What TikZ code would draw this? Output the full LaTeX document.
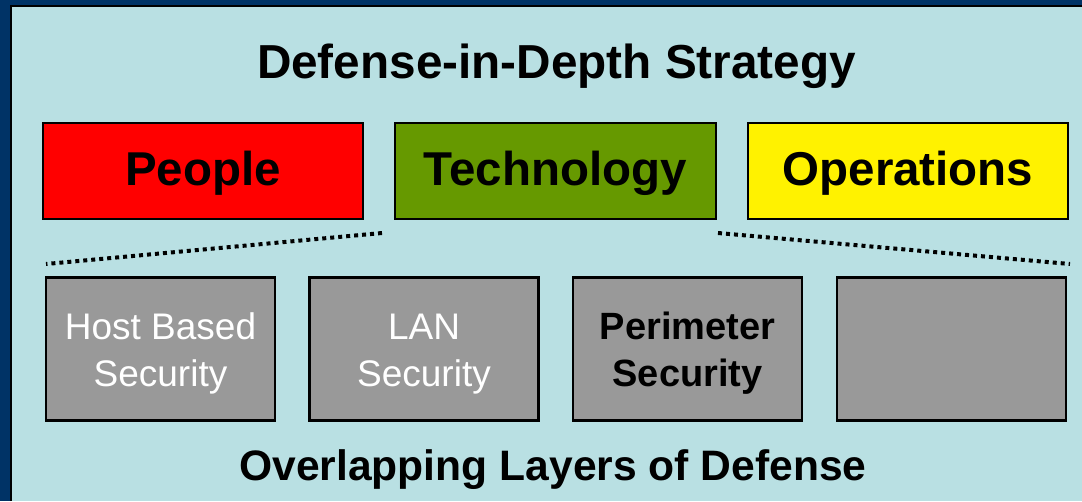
\documentclass[tikz,border=0pt]{standalone}
\usepackage{fontspec}
\setmainfont{Liberation Sans}
\definecolor{frameblue}{RGB}{0,51,102}
\definecolor{panel}{RGB}{185,224,227}
\definecolor{techgreen}{RGB}{102,153,0}
\definecolor{layergray}{RGB}{153,153,153}
\begin{document}
\begin{tikzpicture}[x=1pt,y=-1pt,
  topbox/.style={draw=black,line width=2.2pt,inner sep=0pt,minimum width=320pt,minimum height=96pt,
    text height=33pt,text depth=5pt,font=\fontsize{47.5}{56}\selectfont\bfseries},
  layerbox/.style={draw=black,line width=2.2pt,fill=layergray,inner sep=0pt,minimum width=229pt,minimum height=143pt},
  layertext/.style={anchor=base,inner sep=0pt,text=white,font=\fontsize{37}{44}\selectfont},
  layerbold/.style={anchor=base,inner sep=0pt,text=black,font=\fontsize{38}{44}\selectfont\bfseries},
  headline/.style={anchor=base,inner sep=0pt,font=\fontsize{47.7}{56}\selectfont\bfseries},
  dotline/.style={line width=4pt,dash pattern=on 4pt off 4pt}]
\useasboundingbox (0,0) rectangle (1082,501);
\fill[frameblue] (0,0) rectangle (1082,501);
\fill[panel] (11,6) rectangle (1082,501);
\draw[black,line width=2pt] (11,501) -- (11,6) -- (1082,6);

\node[headline] (title) at (556.5,78) {Defense-in-Depth Strategy};

\node[topbox,fill=red] (people) at (203,171) {People};
\node[topbox,fill=techgreen,minimum width=321pt] (tech) at (555.5,171) {Technology};
\node[topbox,fill=yellow] (ops) at (908,171) {Operations};

\coordinate (dl1) at (46,264);
\coordinate (dl2) at (382,233);
\coordinate (dr1) at (718,233);
\coordinate (dr2) at (1070,264);
\draw[dotline] (dl2) -- (dl1);
\draw[dotline] (dr1) -- (dr2);

\node[layerbox] (host) at (160.5,349) {};
\node[layerbox] (lan) at (424,349) {};
\node[layerbox] (perim) at (687.5,349) {};
\node[layerbox] (fourth) at (951.5,349) {};

\node[layertext] (host1) at (160.5,339) {Host Based};
\node[layertext] (host2) at (160.5,386) {Security};
\node[layertext] (lan1) at (424,339) {LAN};
\node[layertext] (lan2) at (424,386) {Security};
\node[layerbold] (perim1) at (687.5,339) {Perimeter};
\node[layerbold] (perim2) at (687.5,386) {Security};

\node[anchor=base,inner sep=0pt,font=\fontsize{42.6}{52}\selectfont\bfseries] (footer) at (553,480) {Overlapping Layers of Defense};
\end{tikzpicture}
\end{document}
